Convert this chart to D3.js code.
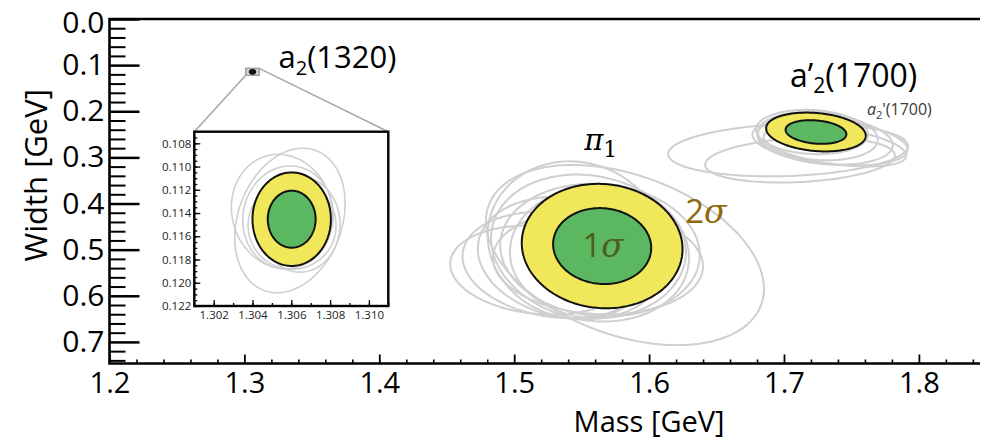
<!DOCTYPE html>
<html>
<head>
<meta charset="utf-8">
<script src="https://cdn.jsdelivr.net/npm/d3@7"></script>
<style>
  html, body { margin: 0; padding: 0; background: #fff; }
  svg { display: block; }
  text { font-family: "Open Sans", "Lato", sans-serif; }
</style>
</head>
<body>
<svg id="chart" width="986" height="440"></svg>
<script>
// ---- axis ticks ----
const massTicks = [1.2, 1.3, 1.4, 1.5, 1.6, 1.7, 1.8];
const widthTicks = [0.0, 0.1, 0.2, 0.3, 0.4, 0.5, 0.6, 0.7];
const insetMassTicks = [1.302, 1.304, 1.306, 1.308, 1.310];
const insetWidthTicks = [0.108, 0.110, 0.112, 0.114, 0.116, 0.118, 0.120, 0.122];

// ---- contour levels: delta chi^2 for two fitted parameters ----
const levelNames = ["2σ", "1σ"];
const levelDeltaChi2 = [6.18, 2.30];
const levelFills = ["#f1e75b", "#5cb860"];

// ---- central fits: [mass, width, sigma_mass, sigma_width, correlation] (GeV) ----
const pi1Fit = [1.5652, 0.4922, 0.02397, 0.05425, 0.05];
const a2pFit = [1.7237, 0.2450, 0.01486, 0.01694, 0.19];
const a2Fit  = [1.30602, 0.11453, 0.000813, 0.001618, 0.0];

// ---- alternative fits (drawn at the 2σ level) ----
const pi1Variations = [
  [1.5821, 0.5117, 0.04145, 0.07855, 0.375],
  [1.5191, 0.5442, 0.02676, 0.03884, 0.134],
  [1.5302, 0.5334, 0.02755, 0.04631, 0.167],
  [1.5414, 0.5182, 0.02749, 0.05342, 0.153],
  [1.5451, 0.4792, 0.02605, 0.06865, 0.060],
  [1.5562, 0.4965, 0.02951, 0.06405, 0.135],
  [1.5636, 0.5009, 0.02975, 0.05785, 0.074],
  [1.5621, 0.5052, 0.02624, 0.05757, 0.0],
  [1.5621, 0.5269, 0.03131, 0.04562, 0.079]
];
const a2pVariations = [
  [1.7030, 0.2840, 0.03576, 0.02295, -0.152],
  [1.7119, 0.3057, 0.02830, 0.01965, -0.208],
  [1.7341, 0.2667, 0.02314, 0.02037, 0.321],
  [1.7304, 0.2624, 0.02021, 0.02148, 0.21],
  [1.7252, 0.2537, 0.01786, 0.02120, 0.145],
  [1.7208, 0.2450, 0.01668, 0.01933, 0.112],
  [1.7378, 0.2754, 0.02127, 0.01784, 0.459]
];
const a2Variations = [
  [1.30593, 0.11464, 0.001144, 0.002502, -0.234],
  [1.30552, 0.11387, 0.001049, 0.001979, 0.074],
  [1.30645, 0.11498, 0.000829, 0.001652, 0.0],
  [1.30583, 0.11438, 0.000938, 0.001783, -0.05],
  [1.30604, 0.11507, 0.000912, 0.001514, 0.0]
];

// zoomed window around a2(1320): [mass min, mass max], [width min, width max]
const insetMassDomain = [1.301, 1.311];
const insetWidthDomain = [0.107, 0.122];

const svg = d3.select("#chart");
const W = 986, H = 440;
const pLeft = 109.5, pRight = 980, pTop = 19, pBottom = 363.5;

const x = d3.scaleLinear().domain([1.2, 1.8453]).range([pLeft, pRight]);
const y = d3.scaleLinear().domain([0, 0.7468]).range([pTop, pBottom]);

// points on the confidence ellipse of a fit, scaled to a given delta chi^2
function contour(row, dchi2) {
  const [m0, w0, sm, sw, r] = row;
  const k = Math.sqrt(dchi2), s = Math.sqrt(1 - r * r);
  return d3.range(0, 200).map(i => {
    const t = i / 200 * 2 * Math.PI;
    return [m0 + k * sm * Math.cos(t), w0 + k * sw * (r * Math.cos(t) + s * Math.sin(t))];
  });
}

function drawFits(g, xs, ys, fit, variations, grayWidth) {
  const line = d3.line().x(d => xs(d[0])).y(d => ys(d[1])).curve(d3.curveLinearClosed);
  g.append("g").selectAll("path").data(variations).join("path")
    .attr("d", v => line(contour(v, levelDeltaChi2[0])))
    .attr("fill", "none").attr("stroke", "#cfcfcf").attr("stroke-width", grayWidth);
  g.append("g").selectAll("path").data(levelDeltaChi2).join("path")
    .attr("d", d => line(contour(fit, d)))
    .attr("fill", (d, i) => levelFills[i])
    .attr("stroke", "#111").attr("stroke-width", 2);
}

svg.append("rect").attr("width", W).attr("height", H).attr("fill", "#fff");

// ---- zoom window marker on the main panel ----
const rx0 = x(insetMassDomain[0]), rx1 = x(insetMassDomain[1]);
const ry0 = y(insetWidthDomain[0]), ry1 = y(insetWidthDomain[1]);
svg.append("rect").attr("x", rx0).attr("y", ry0).attr("width", rx1 - rx0).attr("height", ry1 - ry0)
  .attr("fill", "#d6d6d6").attr("stroke", "#a0a0a0").attr("stroke-width", 1.5);

// ---- main panel ----
const main = svg.append("g");
drawFits(main, x, y, pi1Fit, pi1Variations, 2);
drawFits(main, x, y, a2pFit, a2pVariations, 2);
drawFits(main, x, y, a2Fit, [], 1);

// axes
const yMajor = d3.axisLeft(y).tickValues(widthTicks).tickSize(-30).tickPadding(5)
  .tickFormat(d3.format(".1f"));
const yMinor = d3.axisLeft(y).tickValues(d3.range(0, 0.745, 0.02).filter(v => Math.abs(v * 10 - Math.round(v * 10)) > 1e-6))
  .tickSize(-16).tickFormat("");
const xMajor = d3.axisBottom(x).tickValues(massTicks).tickSize(-9).tickPadding(9)
  .tickFormat(d3.format(".1f"));
const xMinor = d3.axisBottom(x).tickValues(d3.range(1.22, 1.845, 0.02).filter(v => Math.abs(v * 10 - Math.round(v * 10)) > 1e-6))
  .tickSize(-4).tickFormat("");

function styleAxis(g, fs, sw) {
  g.select(".domain").remove();
  g.selectAll("line").attr("stroke", "#000").attr("stroke-width", sw);
  g.selectAll("text").attr("fill", "#000").attr("font-size", fs)
    .attr("font-family", "'Open Sans', sans-serif");
}
main.append("g").attr("transform", `translate(${pLeft},0)`).call(yMinor).call(g => styleAxis(g, 0, 2));
main.append("g").attr("transform", `translate(${pLeft},0)`).call(yMajor).call(g => styleAxis(g, 30, 2.5))
  .call(g => g.selectAll(".tick text").filter(d => d === 0).attr("dy", "0.46em"));
main.append("g").attr("transform", `translate(0,${pBottom})`).call(xMinor).call(g => styleAxis(g, 0, 1.6));
main.append("g").attr("transform", `translate(0,${pBottom})`).call(xMajor).call(g => styleAxis(g, 29, 1.8));

// frame: left, top, bottom
main.append("path")
  .attr("d", `M${pRight},${pTop}H${pLeft}V${pBottom}H${pRight}`)
  .attr("fill", "none").attr("stroke", "#000").attr("stroke-width", 2.6);

// axis titles
svg.append("text").attr("x", x(1.6)).attr("y", 431.5).attr("text-anchor", "middle")
  .attr("font-size", 29).text("Mass [GeV]");
svg.append("text").attr("transform", `translate(47,${(pTop + pBottom) / 2 - 16}) rotate(-90)`)
  .attr("text-anchor", "middle").attr("font-size", 31).text("Width [GeV]");

// ---- inset ----
const inL = 194.3, inR = 388.3, inT = 131.7, inB = 306;
svg.append("line").attr("x1", rx0).attr("y1", ry1).attr("x2", inL).attr("y2", inT)
  .attr("stroke", "#a8a8a8").attr("stroke-width", 1.6);
svg.append("line").attr("x1", rx1).attr("y1", ry0).attr("x2", inR).attr("y2", inT)
  .attr("stroke", "#a8a8a8").attr("stroke-width", 1.6);

const xi = d3.scaleLinear().domain(insetMassDomain).range([inL, inR]);
const yi = d3.scaleLinear().domain(insetWidthDomain).range([inT, inB]);
const inset = svg.append("g");
inset.append("rect").attr("x", inL).attr("y", inT).attr("width", inR - inL).attr("height", inB - inT)
  .attr("fill", "#fff");
svg.append("clipPath").attr("id", "insetClip").append("rect")
  .attr("x", inL).attr("y", inT).attr("width", inR - inL).attr("height", inB - inT);
const insetPlot = inset.append("g").attr("clip-path", "url(#insetClip)");
drawFits(insetPlot, xi, yi, a2Fit, a2Variations, 1.6);

const yiMajor = d3.axisLeft(yi).tickValues(insetWidthTicks).tickSize(-6).tickPadding(3)
  .tickFormat(d3.format(".3f"));
const yiMinor = d3.axisLeft(yi).tickValues(d3.range(0.1075, 0.1221, 0.0005)).tickSize(-3).tickFormat("");
const xiMajor = d3.axisBottom(xi).tickValues(insetMassTicks).tickSize(-6).tickPadding(5)
  .tickFormat(d3.format(".3f"));
const xiMinor = d3.axisBottom(xi).tickValues(d3.range(1.301, 1.3111, 0.001)).tickSize(-3).tickFormat("");
function styleInset(g) {
  g.select(".domain").remove();
  g.selectAll("line").attr("stroke", "#000").attr("stroke-width", 1.3);
  g.selectAll("text").attr("fill", "#222").attr("font-size", 11.5)
    .attr("font-family", "'Liberation Sans', Arial, sans-serif");
}
inset.append("g").attr("transform", `translate(${inL},0)`).call(yiMinor).call(styleInset);
inset.append("g").attr("transform", `translate(${inL},0)`).call(yiMajor).call(styleInset);
inset.append("g").attr("transform", `translate(0,${inB})`).call(xiMinor).call(styleInset);
inset.append("g").attr("transform", `translate(0,${inB})`).call(xiMajor).call(styleInset);
inset.append("rect").attr("x", inL).attr("y", inT).attr("width", inR - inL).attr("height", inB - inT)
  .attr("fill", "none").attr("stroke", "#000").attr("stroke-width", 2.4);

// ---- labels ----
const cx = row => x(row[0]), cy = row => y(row[1]);

const a2Label = svg.append("text").attr("x", cx(a2Fit) + 26).attr("y", cy(a2Fit) - 4)
  .attr("font-size", 31).attr("fill", "#000");
a2Label.append("tspan").text("a");
a2Label.append("tspan").attr("dy", 7).attr("font-size", 20).text("2");
a2Label.append("tspan").attr("dy", -7).text("(1320)");

const a2pLabel = svg.append("text").attr("x", cx(a2pFit) - 26).attr("y", cy(a2pFit) - 45)
  .attr("font-size", 32).attr("fill", "#000");
a2pLabel.append("tspan").text("a’");
a2pLabel.append("tspan").attr("dy", 6).attr("font-size", 21).text("2");
a2pLabel.append("tspan").attr("dy", -6).text("(1700)");

const a2pSmall = svg.append("text").attr("x", cx(a2pFit) + 51).attr("y", cy(a2pFit) - 17)
  .attr("font-size", 16).attr("fill", "#3a3a3a").attr("font-family", "'Liberation Sans', Arial, sans-serif");
a2pSmall.append("tspan").attr("font-style", "italic").text("a");
a2pSmall.append("tspan").attr("dy", 4).attr("font-size", 11).text("2");
a2pSmall.append("tspan").attr("dy", -4).text("'(1700)");

const piLabel = svg.append("text").attr("x", cx(pi1Fit) - 18).attr("y", cy(pi1Fit) - 96)
  .attr("fill", "#000");
piLabel.append("tspan").attr("font-family", "'DejaVu Serif', serif").attr("font-style", "italic")
  .attr("font-size", 29).text("π");
piLabel.append("tspan").attr("dy", 7).attr("font-family", "'DejaVu Serif', serif")
  .attr("font-size", 22).text("1");

const oneSigma = svg.append("text").attr("x", cx(pi1Fit) + 1).attr("y", cy(pi1Fit) + 11)
  .attr("text-anchor", "middle").attr("fill", "#4b5e1d").attr("font-size", 33);
oneSigma.append("tspan").text("1");
oneSigma.append("tspan").attr("font-family", "'DejaVu Serif', serif").attr("font-style", "italic").text("σ");

const twoSigma = svg.append("text").attr("x", cx(pi1Fit) + 83).attr("y", cy(pi1Fit) - 23)
  .attr("fill", "#8c6a0c").attr("font-size", 33);
twoSigma.append("tspan").text("2");
twoSigma.append("tspan").attr("font-family", "'DejaVu Serif', serif").attr("font-style", "italic").text("σ");
</script>
</body>
</html>
